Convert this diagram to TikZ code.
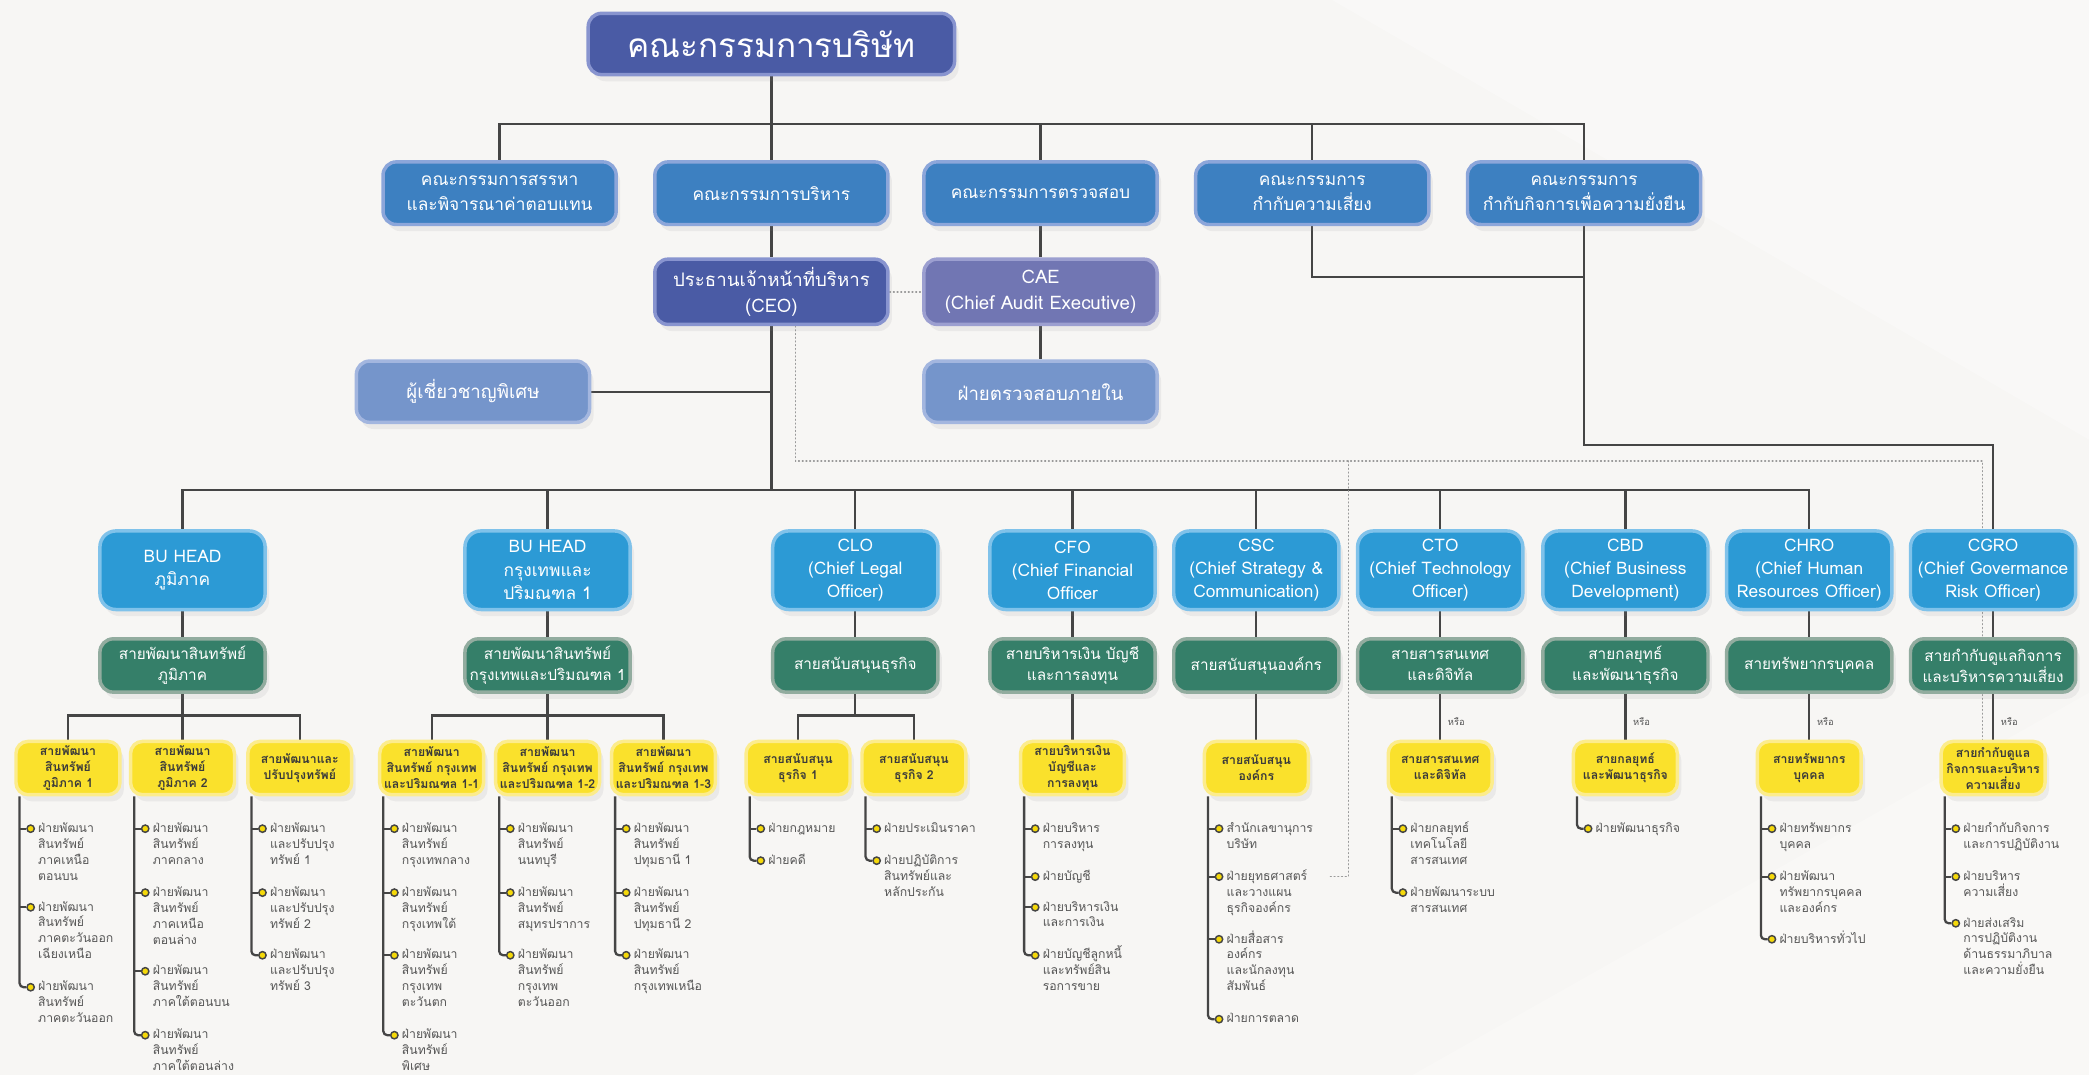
\documentclass[tikz,border=0pt]{standalone}
\usepackage{fontspec}
\setmainfont[Script=Thai]{Loma}
\usetikzlibrary{positioning,shadows}

\definecolor{paper}{HTML}{F7F6F4}
\definecolor{wire}{HTML}{454545}
\definecolor{dotgray}{HTML}{9A9A9A}
\definecolor{boardfill}{HTML}{4A5BA5}
\definecolor{boardline}{HTML}{8894CF}
\definecolor{comfill}{HTML}{3D80C1}
\definecolor{comline}{HTML}{8CA6DA}
\definecolor{caefill}{HTML}{7176B3}
\definecolor{caeline}{HTML}{9C9FD0}
\definecolor{advfill}{HTML}{7595CB}
\definecolor{advline}{HTML}{A3B6DF}
\definecolor{execfill}{HTML}{2C9AD5}
\definecolor{execline}{HTML}{80C2EA}
\definecolor{grnfill}{HTML}{357F69}
\definecolor{grnline}{HTML}{92AC9F}
\definecolor{yelfill}{HTML}{FAE12C}
\definecolor{yelline}{HTML}{FCEC8C}
\definecolor{yeltext}{HTML}{3A3A3A}
\definecolor{listtext}{HTML}{565656}
\definecolor{dotfill}{HTML}{F5D90A}

\pgfdeclarelayer{paperlayer}
\pgfdeclarelayer{wirelayer}
\pgfsetlayers{paperlayer,wirelayer,main}

\tikzset{
  box/.style={rectangle, rounded corners=10pt, line width=2.6pt, align=center, text=white, inner sep=1pt,
    drop shadow={shadow xshift=3pt, shadow yshift=-5pt, opacity=0.10}},
  boardbox/.style={box, fill=boardfill, draw=boardline, minimum width=275pt, minimum height=46pt, font=\fontsize{25}{30}\selectfont},
  combox/.style={box, fill=comfill, draw=comline, minimum width=175pt, minimum height=47pt, font=\fontsize{13}{19}\selectfont},
  ceobox/.style={box, fill=boardfill, draw=boardline, minimum width=175pt, minimum height=49pt, font=\fontsize{14}{20}\selectfont},
  advbox/.style={box, fill=advfill, draw=advline, minimum width=175pt, minimum height=46pt, font=\fontsize{14}{20}\selectfont},
  execbox/.style={box, rounded corners=12pt, fill=execfill, draw=execline, minimum width=124pt, minimum height=59pt, font=\fontsize{13}{17.5}\selectfont},
  unitbox/.style={box, fill=grnfill, draw=grnline, minimum width=124pt, minimum height=40pt, font=\fontsize{11.5}{16}\selectfont},
  linebox/.style={box, rounded corners=9pt, fill=yelfill, draw=yelline, text=yeltext, minimum width=78pt, minimum height=40pt, font=\bfseries\fontsize{9.2}{12}\selectfont},
  dot/.style={circle, fill=dotfill, draw=wire, line width=1.1pt, inner sep=0pt, minimum size=5.5pt},
  item/.style={anchor=base west, text width=90pt, align=left, xshift=5.5pt, yshift=-2.8pt, inner sep=0pt, text=listtext, font=\fontsize{9.2}{11.95}\selectfont},
  link/.style={draw=wire, line width=1.7pt},
  tree/.style={draw=wire, line width=1.7pt, rounded corners=3pt},
  dotline/.style={draw=dotgray, line width=1.1pt, dash pattern=on 0.6pt off 2.2pt, line cap=round},
  orlabel/.style={font=\fontsize{7}{8}\selectfont, text=listtext, anchor=west, xshift=5pt, inner sep=0pt, pos=0.6}
}

\begin{document}
\begin{tikzpicture}[x=1pt, y=-1pt]

\useasboundingbox (0,0) rectangle (1568,807);
\begin{pgfonlayer}{paperlayer}
\fill[paper] (0,0) rectangle (1568,807);
\fill[white, opacity=0.3] (1000,0) -- (1568,0) -- (1568,330) -- cycle;
\fill[white, opacity=0.25] (1060,807) -- (1568,520) -- (1568,807) -- cycle;
\end{pgfonlayer}

% Board and committees
\node[boardbox] (board) at (579,33) {คณะกรรมการบริษัท};
\node[combox] (nomcom) at (375,145) {คณะกรรมการสรรหา\\และพิจารณาค่าตอบแทน};
\node[combox] (execcom) at (579,145) {คณะกรรมการบริหาร};
\node[combox] (auditcom) at (781,145) {คณะกรรมการตรวจสอบ};
\node[combox] (riskcom) at (985,145) {คณะกรรมการ\\กำกับความเสี่ยง};
\node[combox] (sustcom) at (1189,145) {คณะกรรมการ\\กำกับกิจการเพื่อความยั่งยืน};

\node[ceobox] (ceo) at (579,219) {ประธานเจ้าหน้าที่บริหาร\\(CEO)};
\node[ceobox, fill=caefill, draw=caeline] (cae) at (781,219) {CAE\\(Chief Audit Executive)};
\node[advbox] (advisor) at (355,294) {ผู้เชี่ยวชาญพิเศษ};
\node[advbox] (intaudit) at (781,294) {ฝ่ายตรวจสอบภายใน};

% Chiefs
\node[execbox] (bureg) at (137,428) {BU HEAD\\ภูมิภาค};
\node[execbox] (bubkk) at (411,428) {BU HEAD\\กรุงเทพและ\\ปริมณฑล 1};
\node[execbox] (clo) at (642,428) {CLO\\(Chief Legal\\Officer)};
\node[execbox] (cfo) at (805,428) {CFO\\(Chief Financial\\Officer};
\node[execbox] (csc) at (943,428) {CSC\\(Chief Strategy \&\\Communication)};
\node[execbox] (cto) at (1081,428) {CTO\\(Chief Technology\\Officer)};
\node[execbox] (cbd) at (1220,428) {CBD\\(Chief Business\\Development)};
\node[execbox] (chro) at (1358,428) {CHRO\\(Chief Human\\Resources Officer)};
\node[execbox] (cgro) at (1496,428) {CGRO\\(Chief Govermance\\Risk Officer)};

% Groups
\node[unitbox] (devreg) at (137,499.5) {สายพัฒนาสินทรัพย์\\ภูมิภาค};
\node[unitbox] (devbkk) at (411,499.5) {สายพัฒนาสินทรัพย์\\กรุงเทพและปริมณฑล 1};
\node[unitbox] (bizsupport) at (642,499.5) {สายสนับสนุนธุรกิจ};
\node[unitbox] (finance) at (805,499.5) {สายบริหารเงิน บัญชี\\และการลงทุน};
\node[unitbox] (corpsupport) at (943,499.5) {สายสนับสนุนองค์กร};
\node[unitbox] (infotech) at (1081,499.5) {สายสารสนเทศ\\และดิจิทัล};
\node[unitbox] (strategy) at (1220,499.5) {สายกลยุทธ์\\และพัฒนาธุรกิจ};
\node[unitbox] (humanres) at (1358,499.5) {สายทรัพยากรบุคคล};
\node[unitbox] (governance) at (1496,499.5) {สายกำกับดูแลกิจการ\\และบริหารความเสี่ยง};

% Lines of business
\node[linebox] (devreg1) at (51,576.5) {สายพัฒนา\\สินทรัพย์\\ภูมิภาค 1};
\node[linebox] (devreg2) at (137,576.5) {สายพัฒนา\\สินทรัพย์\\ภูมิภาค 2};
\node[linebox] (devimprove) at (225,576.5) {สายพัฒนาและ\\ปรับปรุงทรัพย์};
\node[linebox] (devbkk11) at (324,576.5) {สายพัฒนา\\สินทรัพย์ กรุงเทพ\\และปริมณฑล 1-1};
\node[linebox] (devbkk12) at (411,576.5) {สายพัฒนา\\สินทรัพย์ กรุงเทพ\\และปริมณฑล 1-2};
\node[linebox] (devbkk13) at (498,576.5) {สายพัฒนา\\สินทรัพย์ กรุงเทพ\\และปริมณฑล 1-3};
\node[linebox] (bizsupport1) at (599,576.5) {สายสนับสนุน\\ธุรกิจ 1};
\node[linebox] (bizsupport2) at (686,576.5) {สายสนับสนุน\\ธุรกิจ 2};
\node[linebox] (financeunit) at (805,576.5) {สายบริหารเงิน\\บัญชีและ\\การลงทุน};
\node[linebox] (corpunit) at (943,576.5) {สายสนับสนุน\\องค์กร};
\node[linebox] (itunit) at (1081,576.5) {สายสารสนเทศ\\และดิจิทัล};
\node[linebox] (strategyunit) at (1220,576.5) {สายกลยุทธ์\\และพัฒนาธุรกิจ};
\node[linebox] (hrunit) at (1358,576.5) {สายทรัพยากร\\บุคคล};
\node[linebox] (govunit) at (1496,576.5) {สายกำกับดูแล\\กิจการและบริหาร\\ความเสี่ยง};

% Departments
\node[dot] (devreg1d1) at (23,622) {}; \node[item] (devreg1t1) at (devreg1d1) {ฝ่ายพัฒนา\\สินทรัพย์\\ภาคเหนือ\\ตอนบน};
\node[dot] (devreg1d2) at (23,681) {}; \node[item] (devreg1t2) at (devreg1d2) {ฝ่ายพัฒนา\\สินทรัพย์\\ภาคตะวันออก\\เฉียงเหนือ};
\node[dot] (devreg1d3) at (23,741) {}; \node[item] (devreg1t3) at (devreg1d3) {ฝ่ายพัฒนา\\สินทรัพย์\\ภาคตะวันออก};

\node[dot] (devreg2d1) at (109,622) {}; \node[item] (devreg2t1) at (devreg2d1) {ฝ่ายพัฒนา\\สินทรัพย์\\ภาคกลาง};
\node[dot] (devreg2d2) at (109,670) {}; \node[item] (devreg2t2) at (devreg2d2) {ฝ่ายพัฒนา\\สินทรัพย์\\ภาคเหนือ\\ตอนล่าง};
\node[dot] (devreg2d3) at (109,729) {}; \node[item] (devreg2t3) at (devreg2d3) {ฝ่ายพัฒนา\\สินทรัพย์\\ภาคใต้ตอนบน};
\node[dot] (devreg2d4) at (109,777) {}; \node[item] (devreg2t4) at (devreg2d4) {ฝ่ายพัฒนา\\สินทรัพย์\\ภาคใต้ตอนล่าง};

\node[dot] (devimproved1) at (197,622) {}; \node[item] (devimprovet1) at (devimproved1) {ฝ่ายพัฒนา\\และปรับปรุง\\ทรัพย์ 1};
\node[dot] (devimproved2) at (197,670) {}; \node[item] (devimprovet2) at (devimproved2) {ฝ่ายพัฒนา\\และปรับปรุง\\ทรัพย์ 2};
\node[dot] (devimproved3) at (197,717) {}; \node[item] (devimprovet3) at (devimproved3) {ฝ่ายพัฒนา\\และปรับปรุง\\ทรัพย์ 3};

\node[dot] (devbkk11d1) at (296,622) {}; \node[item] (devbkk11t1) at (devbkk11d1) {ฝ่ายพัฒนา\\สินทรัพย์\\กรุงเทพกลาง};
\node[dot] (devbkk11d2) at (296,670) {}; \node[item] (devbkk11t2) at (devbkk11d2) {ฝ่ายพัฒนา\\สินทรัพย์\\กรุงเทพใต้};
\node[dot] (devbkk11d3) at (296,717) {}; \node[item] (devbkk11t3) at (devbkk11d3) {ฝ่ายพัฒนา\\สินทรัพย์\\กรุงเทพ\\ตะวันตก};
\node[dot] (devbkk11d4) at (296,777) {}; \node[item] (devbkk11t4) at (devbkk11d4) {ฝ่ายพัฒนา\\สินทรัพย์\\พิเศษ};

\node[dot] (devbkk12d1) at (383,622) {}; \node[item] (devbkk12t1) at (devbkk12d1) {ฝ่ายพัฒนา\\สินทรัพย์\\นนทบุรี};
\node[dot] (devbkk12d2) at (383,670) {}; \node[item] (devbkk12t2) at (devbkk12d2) {ฝ่ายพัฒนา\\สินทรัพย์\\สมุทรปราการ};
\node[dot] (devbkk12d3) at (383,717) {}; \node[item] (devbkk12t3) at (devbkk12d3) {ฝ่ายพัฒนา\\สินทรัพย์\\กรุงเทพ\\ตะวันออก};

\node[dot] (devbkk13d1) at (470,622) {}; \node[item] (devbkk13t1) at (devbkk13d1) {ฝ่ายพัฒนา\\สินทรัพย์\\ปทุมธานี 1};
\node[dot] (devbkk13d2) at (470,670) {}; \node[item] (devbkk13t2) at (devbkk13d2) {ฝ่ายพัฒนา\\สินทรัพย์\\ปทุมธานี 2};
\node[dot] (devbkk13d3) at (470,717) {}; \node[item] (devbkk13t3) at (devbkk13d3) {ฝ่ายพัฒนา\\สินทรัพย์\\กรุงเทพเหนือ};

\node[dot] (bizsupport1d1) at (571,622) {}; \node[item] (bizsupport1t1) at (bizsupport1d1) {ฝ่ายกฎหมาย};
\node[dot] (bizsupport1d2) at (571,646) {}; \node[item] (bizsupport1t2) at (bizsupport1d2) {ฝ่ายคดี};

\node[dot] (bizsupport2d1) at (658,622) {}; \node[item] (bizsupport2t1) at (bizsupport2d1) {ฝ่ายประเมินราคา};
\node[dot] (bizsupport2d2) at (658,646) {}; \node[item] (bizsupport2t2) at (bizsupport2d2) {ฝ่ายปฏิบัติการ\\สินทรัพย์และ\\หลักประกัน};

\node[dot] (financeunitd1) at (777,622) {}; \node[item] (financeunitt1) at (financeunitd1) {ฝ่ายบริหาร\\การลงทุน};
\node[dot] (financeunitd2) at (777,658) {}; \node[item] (financeunitt2) at (financeunitd2) {ฝ่ายบัญชี};
\node[dot] (financeunitd3) at (777,681) {}; \node[item] (financeunitt3) at (financeunitd3) {ฝ่ายบริหารเงิน\\และการเงิน};
\node[dot] (financeunitd4) at (777,717) {}; \node[item] (financeunitt4) at (financeunitd4) {ฝ่ายบัญชีลูกหนี้\\และทรัพย์สิน\\รอการขาย};

\node[dot] (corpunitd1) at (915,622) {}; \node[item] (corpunitt1) at (corpunitd1) {สำนักเลขานุการ\\บริษัท};
\node[dot] (corpunitd2) at (915,658) {}; \node[item] (corpunitt2) at (corpunitd2) {ฝ่ายยุทธศาสตร์\\และวางแผน\\ธุรกิจองค์กร};
\node[dot] (corpunitd3) at (915,705) {}; \node[item] (corpunitt3) at (corpunitd3) {ฝ่ายสื่อสาร\\องค์กร\\และนักลงทุน\\สัมพันธ์};
\node[dot] (corpunitd4) at (915,765) {}; \node[item] (corpunitt4) at (corpunitd4) {ฝ่ายการตลาด};

\node[dot] (itunitd1) at (1053,622) {}; \node[item] (itunitt1) at (itunitd1) {ฝ่ายกลยุทธ์\\เทคโนโลยี\\สารสนเทศ};
\node[dot] (itunitd2) at (1053,670) {}; \node[item] (itunitt2) at (itunitd2) {ฝ่ายพัฒนาระบบ\\สารสนเทศ};

\node[dot] (strategyunitd1) at (1192,622) {}; \node[item] (strategyunitt1) at (strategyunitd1) {ฝ่ายพัฒนาธุรกิจ};

\node[dot] (hrunitd1) at (1330,622) {}; \node[item] (hrunitt1) at (hrunitd1) {ฝ่ายทรัพยากร\\บุคคล};
\node[dot] (hrunitd2) at (1330,658) {}; \node[item] (hrunitt2) at (hrunitd2) {ฝ่ายพัฒนา\\ทรัพยากรบุคคล\\และองค์กร};
\node[dot] (hrunitd3) at (1330,705) {}; \node[item] (hrunitt3) at (hrunitd3) {ฝ่ายบริหารทั่วไป};

\node[dot] (govunitd1) at (1468,622) {}; \node[item] (govunitt1) at (govunitd1) {ฝ่ายกำกับกิจการ\\และการปฏิบัติงาน};
\node[dot] (govunitd2) at (1468,658) {}; \node[item] (govunitt2) at (govunitd2) {ฝ่ายบริหาร\\ความเสี่ยง};
\node[dot] (govunitd3) at (1468,693) {}; \node[item] (govunitt3) at (govunitd3) {ฝ่ายส่งเสริม\\การปฏิบัติงาน\\ด้านธรรมาภิบาล\\และความยั่งยืน};

\begin{pgfonlayer}{wirelayer}
% Lines
\coordinate (boardbus) at (579,93);
\coordinate (execbus) at (579,368);
\draw[link] (board) -- (boardbus);
\draw[link] (nomcom) |- (boardbus) -| (sustcom);
\draw[link] (boardbus) -- (execcom);
\draw[link] (boardbus -| auditcom) -- (auditcom);
\draw[link] (boardbus -| riskcom) -- (riskcom);
\draw[link] (execcom) -- (ceo);
\draw[link] (auditcom) -- (cae);
\draw[link] (cae) -- (intaudit);
\draw[link] (ceo) -- (execbus);
\draw[link] (advisor) -- (advisor -| ceo);
\draw[link] (bureg) |- (execbus) -| (chro);
\draw[link] (execbus -| bubkk) -- (bubkk);
\draw[link] (execbus -| clo) -- (clo);
\draw[link] (execbus -| cfo) -- (cfo);
\draw[link] (execbus -| csc) -- (csc);
\draw[link] (execbus -| cto) -- (cto);
\draw[link] (execbus -| cbd) -- (cbd);
\coordinate (riskjoin) at (1189,208);
\coordinate (govturn) at (1189,334);
\draw[link] (riskcom) |- (riskjoin);
\draw[link] (sustcom) -- (govturn) -| (cgro);

% Dotted lines
\coordinate (dotdrop) at (597,346);
\coordinate (dotcorner) at (1488,346);
\coordinate (dotsplit) at (1012,346);
\coordinate (dotend) at (998,658);
\draw[dotline] (ceo) -- (cae);
\draw[dotline] (ceo.south -| dotdrop) -- (dotdrop) -- (dotcorner) -- (dotcorner |- govunit.north);
\draw[dotline] (dotsplit) |- (dotend);

% Chiefs to groups
\draw[link] (bureg) -- (devreg);
\draw[link] (bubkk) -- (devbkk);
\draw[link] (clo) -- (bizsupport);
\draw[link] (cfo) -- (finance);
\draw[link] (csc) -- (corpsupport);
\draw[link] (cto) -- (infotech);
\draw[link] (cbd) -- (strategy);
\draw[link] (chro) -- (humanres);
\draw[link] (cgro) -- (governance);

% Groups to lines of business
\coordinate (regbus) at (137,537);
\coordinate (bkkbus) at (411,537);
\coordinate (bizbus) at (642,537);
\draw[link] (devreg) -- (devreg2);
\draw[link] (devreg1) |- (regbus) -| (devimprove);
\draw[link] (devbkk) -- (devbkk12);
\draw[link] (devbkk11) |- (bkkbus) -| (devbkk13);
\draw[link] (bizsupport) -- (bizbus);
\draw[link] (bizsupport1) |- (bizbus) -| (bizsupport2);
\draw[link] (finance) -- (financeunit);
\draw[link] (corpsupport) -- (corpunit);
\draw[link] (infotech) -- node[orlabel] {หรือ} (itunit);
\draw[link] (strategy) -- node[orlabel] {หรือ} (strategyunit);
\draw[link] (humanres) -- node[orlabel] {หรือ} (hrunit);
\draw[link] (governance) -- node[orlabel] {หรือ} (govunit);

% Department trees
\coordinate (devreg1tree) at ([xshift=4pt]devreg1.south west);
\draw[tree] (devreg1tree) |- (devreg1d3);
\draw[tree] (devreg1tree |- devreg1d1) -- (devreg1d1);
\draw[tree] (devreg1tree |- devreg1d2) -- (devreg1d2);

\coordinate (devreg2tree) at ([xshift=4pt]devreg2.south west);
\draw[tree] (devreg2tree) |- (devreg2d4);
\draw[tree] (devreg2tree |- devreg2d1) -- (devreg2d1);
\draw[tree] (devreg2tree |- devreg2d2) -- (devreg2d2);
\draw[tree] (devreg2tree |- devreg2d3) -- (devreg2d3);

\coordinate (devimprovetree) at ([xshift=4pt]devimprove.south west);
\draw[tree] (devimprovetree) |- (devimproved3);
\draw[tree] (devimprovetree |- devimproved1) -- (devimproved1);
\draw[tree] (devimprovetree |- devimproved2) -- (devimproved2);

\coordinate (devbkk11tree) at ([xshift=4pt]devbkk11.south west);
\draw[tree] (devbkk11tree) |- (devbkk11d4);
\draw[tree] (devbkk11tree |- devbkk11d1) -- (devbkk11d1);
\draw[tree] (devbkk11tree |- devbkk11d2) -- (devbkk11d2);
\draw[tree] (devbkk11tree |- devbkk11d3) -- (devbkk11d3);

\coordinate (devbkk12tree) at ([xshift=4pt]devbkk12.south west);
\draw[tree] (devbkk12tree) |- (devbkk12d3);
\draw[tree] (devbkk12tree |- devbkk12d1) -- (devbkk12d1);
\draw[tree] (devbkk12tree |- devbkk12d2) -- (devbkk12d2);

\coordinate (devbkk13tree) at ([xshift=4pt]devbkk13.south west);
\draw[tree] (devbkk13tree) |- (devbkk13d3);
\draw[tree] (devbkk13tree |- devbkk13d1) -- (devbkk13d1);
\draw[tree] (devbkk13tree |- devbkk13d2) -- (devbkk13d2);

\coordinate (bizsupport1tree) at ([xshift=4pt]bizsupport1.south west);
\draw[tree] (bizsupport1tree) |- (bizsupport1d2);
\draw[tree] (bizsupport1tree |- bizsupport1d1) -- (bizsupport1d1);

\coordinate (bizsupport2tree) at ([xshift=4pt]bizsupport2.south west);
\draw[tree] (bizsupport2tree) |- (bizsupport2d2);
\draw[tree] (bizsupport2tree |- bizsupport2d1) -- (bizsupport2d1);

\coordinate (financeunittree) at ([xshift=4pt]financeunit.south west);
\draw[tree] (financeunittree) |- (financeunitd4);
\draw[tree] (financeunittree |- financeunitd1) -- (financeunitd1);
\draw[tree] (financeunittree |- financeunitd2) -- (financeunitd2);
\draw[tree] (financeunittree |- financeunitd3) -- (financeunitd3);

\coordinate (corpunittree) at ([xshift=4pt]corpunit.south west);
\draw[tree] (corpunittree) |- (corpunitd4);
\draw[tree] (corpunittree |- corpunitd1) -- (corpunitd1);
\draw[tree] (corpunittree |- corpunitd2) -- (corpunitd2);
\draw[tree] (corpunittree |- corpunitd3) -- (corpunitd3);

\coordinate (itunittree) at ([xshift=4pt]itunit.south west);
\draw[tree] (itunittree) |- (itunitd2);
\draw[tree] (itunittree |- itunitd1) -- (itunitd1);

\coordinate (strategyunittree) at ([xshift=4pt]strategyunit.south west);
\draw[tree] (strategyunittree) |- (strategyunitd1);

\coordinate (hrunittree) at ([xshift=4pt]hrunit.south west);
\draw[tree] (hrunittree) |- (hrunitd3);
\draw[tree] (hrunittree |- hrunitd1) -- (hrunitd1);
\draw[tree] (hrunittree |- hrunitd2) -- (hrunitd2);

\coordinate (govunittree) at ([xshift=4pt]govunit.south west);
\draw[tree] (govunittree) |- (govunitd3);
\draw[tree] (govunittree |- govunitd1) -- (govunitd1);
\draw[tree] (govunittree |- govunitd2) -- (govunitd2);
\end{pgfonlayer}

\end{tikzpicture}
\end{document}
